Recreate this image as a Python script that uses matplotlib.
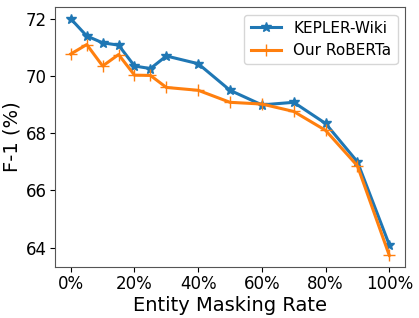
import matplotlib
matplotlib.use("Agg")
import matplotlib.pyplot as plt
from matplotlib.ticker import PercentFormatter

rates = [0, 5, 10, 15, 20, 25, 30, 40, 50, 60, 70, 80, 90, 100]
kepler_wiki = [72.0, 71.40, 71.16, 71.08, 70.35, 70.26, 70.70, 70.43, 69.50,
               68.99, 69.08, 68.34, 67.0, 64.1]
our_roberta = [70.77, 71.10, 70.35, 70.75, 70.03, 70.02, 69.60, 69.50, 69.08,
               69.02, 68.76, 68.10, 66.86, 63.73]

fig, ax = plt.subplots(figsize=(4.19, 3.18), dpi=100)
ax.plot(rates, kepler_wiki, marker="*", markersize=7, linewidth=2.2, label="KEPLER-Wiki")
ax.plot(rates, our_roberta, marker="+", markersize=8, linewidth=2.2, label="Our RoBERTa")

ax.xaxis.set_major_formatter(PercentFormatter(decimals=0))
ax.set_xticks([0, 20, 40, 60, 80, 100])
ax.set_yticks([64, 66, 68, 70, 72])
ax.tick_params(labelsize=12, pad=2.5)
for s in ax.spines.values():
    s.set_color("#555555")
ax.set_xlabel("Entity Masking Rate", fontsize=14, labelpad=2)
ax.set_ylabel("F-1 (%)", fontsize=14, labelpad=3)
ax.legend(fontsize=11, loc="upper right")

plt.subplots_adjust(left=0.131, right=0.967, top=0.978, bottom=0.16)
plt.savefig("out.png")
